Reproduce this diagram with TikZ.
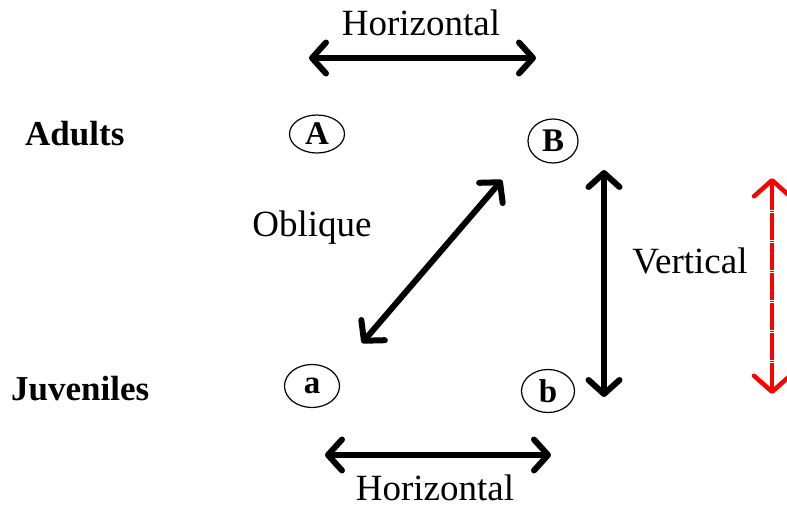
\documentclass[tikz,border=0pt]{standalone}
\usepackage{fontspec}
\setmainfont{Liberation Serif}
\usetikzlibrary{arrows.meta,shapes.geometric}
\begin{document}
\begin{tikzpicture}[x=1pt,y=-1pt,
  lbl/.style={anchor=base,inner sep=0pt,font=\fontsize{37}{42}\selectfont},
  grp/.style={anchor=base west,inner sep=0pt,font=\fontsize{35}{40}\selectfont\bfseries},
  circ/.style={draw,ellipse,line width=1.2pt,inner sep=0pt,font=\fontsize{33}{38}\selectfont\bfseries},
  bar/.style={line width=6pt,line cap=round,
    {Straight Barb[round,length=14pt,width=31pt]}-{Straight Barb[round,length=14pt,width=31pt]}},
  redbar/.style={draw=red,line width=4.5pt,dash pattern=on 27pt off 1pt on 1pt off 1pt,
    {Straight Barb[round,length=16pt,width=36pt]}-{Straight Barb[round,length=16pt,width=36pt]}}]
\useasboundingbox (0,0) rectangle (787,509);
% labels
\node[lbl] (htop) at (421,35) {Horizontal};
\node[lbl] (hbot) at (435,500) {Horizontal};
\node[lbl] (obl) at (312,236) {Oblique};
\node[lbl] (vert) at (690,273) {Vertical};
\node[grp] (adults) at (25,145) {Adults};
\node[grp] (juv) at (11,400) {Juveniles};
% circles
\node[circ,minimum width=55pt,minimum height=38pt] (A) at (317,134) {A};
\node[circ,minimum width=50pt,minimum height=44pt] (B) at (553,141) {B};
\node[circ,minimum width=55pt,minimum height=43pt] (a) at (312,386) {a};
\node[circ,minimum width=53pt,minimum height=43pt] (b) at (548,391) {b};
% arrow endpoints
\coordinate (t1) at (309,58);
\coordinate (t2) at (536,58);
\coordinate (b1) at (325,455);
\coordinate (b2) at (551,455);
\coordinate (o1) at (362,343);
\coordinate (o2) at (502,180);
\coordinate (v1) at (604,170);
\coordinate (v2) at (604,397);
\coordinate (r1) at (772,178);
\coordinate (r2) at (772,394);
% arrows
\draw[bar] (t1) -- (t2);
\draw[bar] (b1) -- (b2);
\draw[bar] (o1) -- (o2);
\draw[bar] (v1) -- (v2);
\draw[redbar] (r1) -- (r2);
\end{tikzpicture}
\end{document}
